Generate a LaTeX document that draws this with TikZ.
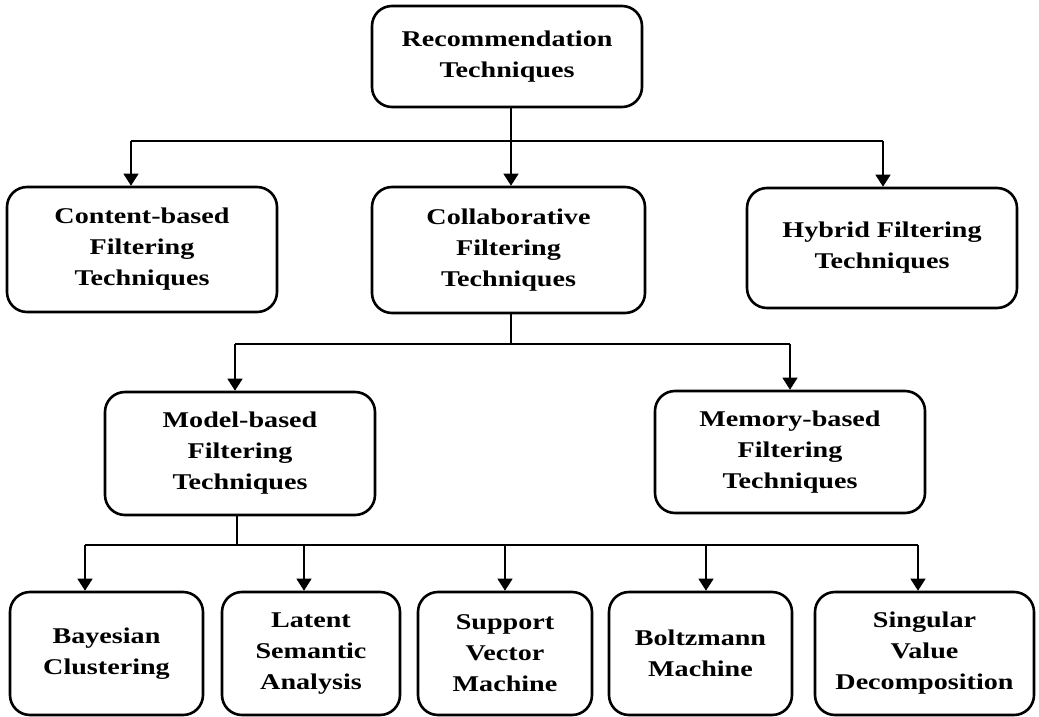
\documentclass[tikz,border=0pt]{standalone}
\usepackage{fontspec}
\setmainfont{Liberation Serif}[FakeStretch=1.25]
\usetikzlibrary{arrows.meta}
\begin{document}
\begin{tikzpicture}[x=1pt,y=-1pt,
  box/.style={draw, line width=2.6pt, rounded corners=20pt, inner sep=0pt,
    align=center, font=\fontsize{22.5}{31}\selectfont\bfseries},
  link/.style={line width=1.3pt},
  arrow/.style={link, -{Triangle[width=15pt,length=12pt]}}]
\useasboundingbox (0,0) rectangle (1039,717);

% level 0
\node[box, minimum width=270pt, minimum height=101pt] (rec) at (507,56.5) {Recommendation\\Techniques};

% level 1
\node[box, minimum width=270pt, minimum height=125pt] (cbf) at (142,249.5) {Content-based\\Filtering\\Techniques};
\node[box, minimum width=273pt, minimum height=126pt] (cof) at (508.5,250) {Collaborative\\Filtering\\Techniques};
\node[box, minimum width=270pt, minimum height=120pt] (hyf) at (882,248) {Hybrid Filtering\\Techniques};

% level 2
\node[box, minimum width=270pt, minimum height=123pt] (mbf) at (240,453.5) {Model-based\\Filtering\\Techniques};
\node[box, minimum width=270pt, minimum height=122pt] (mem) at (790,452) {Memory-based\\Filtering\\Techniques};

% level 3
\node[box, minimum width=193pt, minimum height=123pt] (bay) at (106.5,653.5) {Bayesian\\Clustering};
\node[box, minimum width=178pt, minimum height=123pt] (lsa) at (311,653.5) {Latent\\Semantic\\Analysis};
\node[box, minimum width=174pt, minimum height=123pt] (svm) at (505,653.5) {Support\\Vector\\Machine};
\node[box, minimum width=183pt, minimum height=123pt] (bol) at (700.5,653.5) {Boltzmann\\Machine};
\node[box, minimum width=219pt, minimum height=123pt] (svd) at (924.5,653.5) {Singular\\Value\\Decomposition};

% junction points of the connector trees
\coordinate (j1) at (511,141);
\coordinate (a1) at (131,141);
\coordinate (b1) at (883,141);
\coordinate (j2) at (511,344);
\coordinate (a2) at (235,344);
\coordinate (b2) at (790,344);
\coordinate (j3) at (237,545);
\coordinate (c1) at (85,545);
\coordinate (c2) at (304,545);
\coordinate (c3) at (505,545);
\coordinate (c4) at (706,545);
\coordinate (c5) at (918,545);

% recommendation -> three families
\draw[link] (rec.south -| j1) -- (j1);
\draw[link] (a1) -- (b1);
\draw[arrow] (a1) -- (a1 |- cbf.north);
\draw[arrow] (j1) -- (j1 |- cof.north);
\draw[arrow] (b1) -- (b1 |- hyf.north);

% collaborative -> model / memory
\draw[link] (cof.south -| j2) -- (j2);
\draw[link] (a2) -- (b2);
\draw[arrow] (a2) -- (a2 |- mbf.north);
\draw[arrow] (b2) -- (b2 |- mem.north);

% model-based -> methods
\draw[link] (mbf.south -| j3) -- (j3);
\draw[link] (c1) -- (c5);
\draw[arrow] (c1) -- (c1 |- bay.north);
\draw[arrow] (c2) -- (c2 |- lsa.north);
\draw[arrow] (c3) -- (c3 |- svm.north);
\draw[arrow] (c4) -- (c4 |- bol.north);
\draw[arrow] (c5) -- (c5 |- svd.north);
\end{tikzpicture}
\end{document}
